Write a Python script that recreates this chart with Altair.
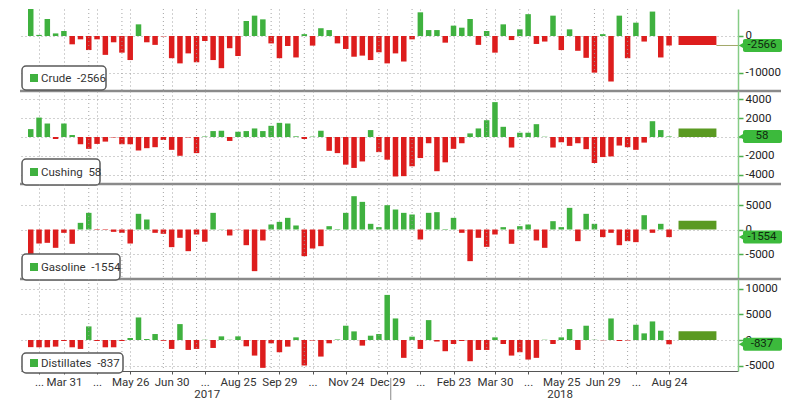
import altair as alt
import pandas as pd

# ---------------- data ----------------
dates = pd.date_range("2017-03-03", periods=78, freq="7D").strftime("%Y-%m-%d").tolist()

crude = [7900, 300, 4600, 700, 1350, -2250, -900, -3800, -900, -5100,
         -1700, -4500, -6500, 3150, -1700, -2400, -100, -6000, -7400, -4700,
         -7100, -1350, -6500, -8700, -3300, -5400, 4050, 5500, 4500, -2000,
         -6000, -2700, -5800, 500, -2600, 2100, 1600, -2000, -3500, -5600,
         -5300, -6500, -4400, -7400, -4700, -6900, -900, 6400, 1600, 1600,
         -1800, 2800, 2250, 4600, -2400, 1350, -4500, 3150, -1100, 1800,
         5900, -2150, -1500, 5500, -3800, 1800, -4000, -5900, -9900, 500,
         -12300, 5500, -6000, 3600, -1500, 6600, -5800, -2566]

cushing = [840, 2065, 1435, -210, 1435, 210, -770, -1260, -735, -490,
           -50, -770, -770, -1435, -1190, -1085, -315, -1365, -2000, -50,
           -1715, 50, 630, 665, -420, 560, 630, 910, 630, 1190,
           1505, 1435, 70, -210, 40, 665, -1470, -1715, -2940, -3290,
           -2600, 735, -1610, -2415, -4200, -4165, -3115, -2240, -665, -3640,
           -2695, -1260, -665, 385, 910, 1785, 3710, 1085, -1120, 455,
           455, 1365, 30, -1120, -560, -945, -665, -1295, -2765, -2135,
           -2065, -910, -1085, -1365, -595, 1680, 735, 58]

gasoline = [-5500, -2860, -2720, -3740, -680, -2920, 1360, 3400, -100, -100,
            -480, -680, -2860, 3200, 2040, -680, -880, -3600, -1700, -4420,
            -1020, -2500, 3400, 50, -1220, -50, -3200, -8500, -2240, 1020,
            1560, 2380, 820, -5440, -3880, -3400, 680, 100, 3400, 6800,
            5640, 1160, 480, 4960, 4080, 3400, 3060, -2040, 3400, 3540,
            100, 2380, -680, -6460, -1700, -3540, -1020, 480, -2920, 680,
            1020, -2240, -3740, 1700, 480, 4420, -2380, 3200, 1160, -1560,
            -680, -3200, -2380, -2580, 2920, -680, 1160, -1554]

distillates = [-1400, -1430, -1430, -1300, -200, -1430, -1750, 2665, -200, -1430,
               -1430, -200, 390, 4420, 200, 1170, -150, -1750, 3120, -1950,
               -1750, 50, -1560, 715, 50, 715, -1235, -3055, -5460, -650,
               -2400, -1300, 520, -5000, -100, -3250, -650, 100, 2800, 1690,
               -1100, 845, 1170, 8840, 4225, -3500, 650, -1750, 3900, -300,
               -2200, -780, -200, -4160, -1950, -1950, 520, -780, -3055, -2400,
               -3835, -3500, 50, -780, 520, 2145, -1950, 2800, 50, -50,
               4225, -200, -100, 2990, 1300, 3640, 1820, -837]

names = ["Crude", "Cushing", "Gasoline", "Distillates"]
legend_text = ["Crude\u00a0\u00a0-2566", "Cushing\u00a0\u00a058",
               "Gasoline\u00a0\u00a0-1554", "Distillates\u00a0\u00a0-837"]
latest_label = ["-2566", "58", "-1554", "-837"]
latest_value = [-2566, 58, -1554, -837]
forecast_value = [-2400, 900, 1800, 1700]
forecast_start = "2018-09-01"
forecast_end = "2018-10-03"

tick_dates = ["2017-03-10", "2017-03-31", "2017-04-28", "2017-05-26", "2017-06-30",
              "2017-07-28", "2017-08-25", "2017-09-29", "2017-10-27", "2017-11-24",
              "2017-12-29", "2018-01-26", "2018-02-23", "2018-03-30", "2018-04-27",
              "2018-05-25", "2018-06-29", "2018-07-27", "2018-08-24"]
tick_labels = ["...", "Mar 31", "...", "May 26", "Jun 30", "...", "Aug 25", "Sep 29",
               "...", "Nov 24", "Dec 29", "...", "Feb 23", "Mar 30", "...", "May 25",
               "Jun 29", "...", "Aug 24"]
minor_grid_dates = ["2017-04-21", "2017-05-19", "2017-06-23", "2017-07-21", "2017-09-22",
                    "2017-10-20", "2017-12-22", "2018-01-19", "2018-03-23", "2018-04-20",
                    "2018-06-22", "2018-07-20"]
year_labels = ["2017", "2018"]
year_label_dates = ["2017-07-30", "2018-05-24"]
year_break = "2018-01-01"

y_domains = [[-14865, 7297], [-5000, 4894], [-10102, 9286], [-6078, 11960]]
y_ticks = [[-10000, 0], [-4000, -2000, 0, 2000, 4000], [-5000, 0, 5000], [-5000, 0, 5000, 10000]]
heights = [82, 93, 95, 92]
legend_widths = [84, 78, 98, 101]

# ---------------- style ----------------
W = 717
GREEN = "#3fb13f"
RED = "#dd1d1d"
OLIVE = "#5a9a22"
TAG = "#3cba3c"
GRID = "#9a9a9a"
FONT = "Roboto"


def dt(s):
    y, m, d = (int(p) for p in s.split("-"))
    return alt.DateTime(year=y, month=m, date=d, utc=True)


x_scale = alt.Scale(type="utc", domain=[dt("2017-02-27"), dt("2018-10-17")])
label_expr = ("[" + ",".join("'%s'" % t for t in tick_labels) + "][indexof([" +
              ",".join("'%s'" % d for d in tick_dates) +
              "], utcFormat(datum.value, '%Y-%m-%d'))]")


def panel(k, values):
    h = heights[k]
    bottom = (k == 3)
    ysc = alt.Scale(domain=y_domains[k], nice=False, zero=False)
    df = pd.DataFrame({"date": dates, "v": values})

    xaxis = alt.Axis(values=[dt(d) for d in tick_dates], grid=True, gridDash=[1, 3],
                     gridColor=GRID, gridOpacity=0.9, title=None,
                     labels=bottom, ticks=bottom, domain=bottom,
                     domainColor="#555", tickColor="#555", tickSize=3,
                     labelPadding=2, labelFontSize=11.5, labelColor="#333",
                     labelFont=FONT, labelExpr=label_expr, labelFlush=False)
    yaxis = alt.Axis(orient="right", values=y_ticks[k], grid=True, gridDash=[1, 3],
                     gridColor=GRID, gridOpacity=0.9, title=None,
                     domainColor="#86cc86", domainWidth=1.5, tickColor="#4cae4c",
                     tickSize=5, tickWidth=1.5, labelPadding=2, labelFontSize=11.5,
                     labelColor="#222", labelFont=FONT, labelExpr="'' + datum.value")

    def X(field):
        return alt.X(field, scale=x_scale, axis=xaxis)

    def Y(field):
        return alt.Y(field, scale=ysc, axis=yaxis)

    bars = alt.Chart(df).mark_bar(size=5.5, clip=True).encode(
        x=X("date:T"),
        y=Y("v:Q"),
        color=alt.condition("datum.v >= 0", alt.value(GREEN), alt.value(RED)),
    )

    minor = alt.Chart(pd.DataFrame({"date": minor_grid_dates})).mark_rule(
        strokeDash=[1, 3], color=GRID, opacity=0.9).encode(
        x=X("date:T"), y=alt.value(0), y2=alt.value(h))

    fdf = pd.DataFrame({"date": [forecast_start], "e": [forecast_end], "v": [forecast_value[k]]})
    fc = alt.Chart(fdf).mark_bar(clip=True, color=(RED if k == 0 else OLIVE)).encode(
        x=X("date:T"),
        x2="e:T",
        y=Y("v:Q"),
        y2=alt.datum(0),
    )

    layers = [bars, minor, fc]

    if k == 0:
        ldf = pd.DataFrame({"date": [forecast_end], "v": [latest_value[k]]})
        layers.append(alt.Chart(ldf).mark_rule(color="#a2a86a", strokeWidth=1).encode(
            x=X("date:T"), x2=alt.value(W), y=Y("v:Q")))

    # value tag on the right axis
    tdf = pd.DataFrame({"v": [latest_value[k]], "t": [latest_label[k]]})
    tag_rect = alt.Chart(tdf).mark_rect(height=13, cornerRadius=2, color=TAG).encode(
        x=alt.value(W + 5), x2=alt.value(W + 44), y=Y("v:Q"))
    tag_tri = alt.Chart(tdf).mark_point(shape="triangle-left", filled=True, size=55,
                                        color=TAG, opacity=1).encode(
        x=alt.value(W + 4), y=Y("v:Q"))
    tag_txt = alt.Chart(tdf).mark_text(fontSize=11.5, font=FONT, color="#0f2a0f",
                                       align="center", baseline="middle").encode(
        x=alt.value(W + 24), y=Y("v:Q"), text="t:N")
    layers += [tag_rect, tag_tri, tag_txt]

    # separator line
    if not bottom:
        layers.append(alt.Chart(pd.DataFrame({"a": [0]})).mark_rule(
            color="#8a8a8a", strokeWidth=2.5).encode(
            x=alt.value(-1), x2=alt.value(W + 43), y=alt.value(h)))

    # legend box
    if bottom:
        ytop, ybot = h - 18, h + 2
    elif k == 0:
        ytop, ybot = h - 25, h - 1
    else:
        ytop, ybot = h - 25, h + 1
    one = pd.DataFrame({"t": [legend_text[k]]})
    box = alt.Chart(one).mark_rect(fill="white", stroke="#5a5a5a", strokeWidth=1.5,
                                   cornerRadius=4).encode(
        x=alt.value(1), x2=alt.value(1 + legend_widths[k]),
        y=alt.value(ytop), y2=alt.value(ybot))
    sq = alt.Chart(one).mark_point(shape="square", filled=True, size=64, color=GREEN,
                                   opacity=1).encode(
        x=alt.value(13), y=alt.value((ytop + ybot) / 2))
    txt = alt.Chart(one).mark_text(align="left", baseline="middle", fontSize=11.5,
                                   font=FONT, color="#333").encode(
        x=alt.value(20), y=alt.value((ytop + ybot) / 2 + 0.5), text="t:N")
    layers += [box, sq, txt]

    if bottom:
        ydf = pd.DataFrame({"date": year_label_dates, "t": year_labels})
        layers.append(alt.Chart(ydf).mark_text(fontSize=11.5, font=FONT, color="#333",
                                               baseline="middle").encode(
            x=X("date:T"), y=alt.value(h + 24), text="t:N"))
        layers.append(alt.Chart(pd.DataFrame({"date": [year_break]})).mark_rule(
            color="#888", strokeWidth=1).encode(
            x=X("date:T"), y=alt.value(h + 7), y2=alt.value(h + 30)))

    return alt.layer(*layers).properties(width=W, height=h)


series = [crude, cushing, gasoline, distillates]
chart = alt.vconcat(*[panel(k, series[k]) for k in range(4)], spacing=0,
                    bounds="flush").properties(
    padding={"left": 10, "top": 0, "right": 5, "bottom": 0}
).configure_view(strokeOpacity=0)

chart.save("out.html", embed_options={"renderer": "svg", "actions": False})
